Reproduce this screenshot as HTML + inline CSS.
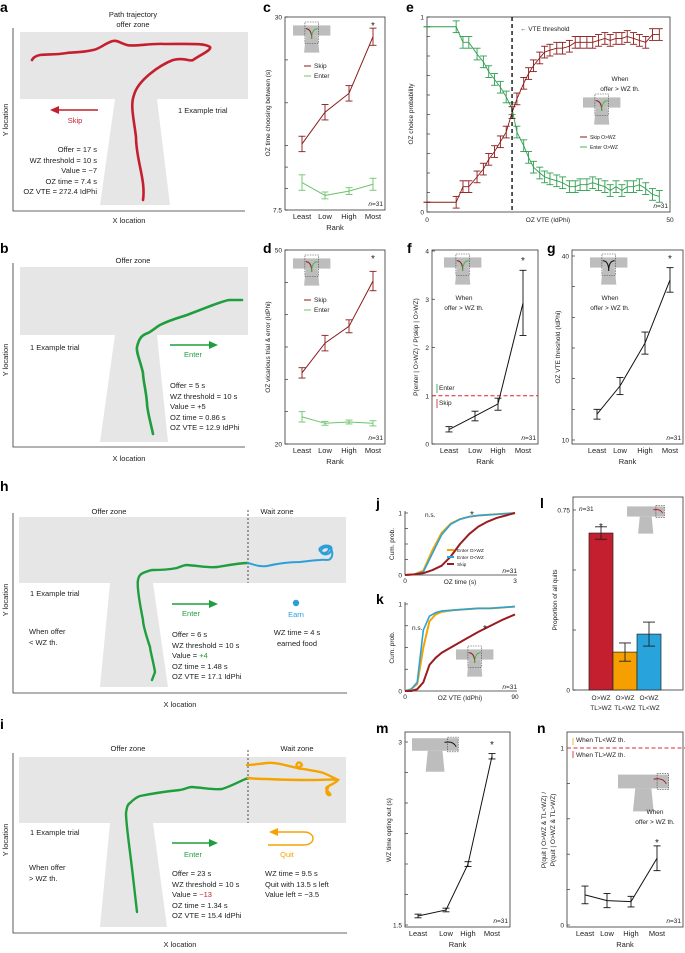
<!DOCTYPE html>
<html><head><meta charset="utf-8">
<style>
html,body{margin:0;padding:0;background:#fff;}
svg{display:block;font-family:"Liberation Sans",Arial,sans-serif;}
text{fill:#222;}
.lt{font-weight:bold;font-size:14px;fill:#000;}
.t7{font-size:7.5px;}
.t6{font-size:6.5px;}
</style></head>
<body>
<svg id="fig" width="685" height="953" viewBox="0 0 685 953" xmlns="http://www.w3.org/2000/svg">
<!-- panel letters -->
<text class="lt" x="0" y="12">a</text>
<text class="lt" x="263" y="12">c</text>
<text class="lt" x="406" y="12">e</text>
<text class="lt" x="0" y="253">b</text>
<text class="lt" x="263" y="253">d</text>
<text class="lt" x="407" y="253">f</text>
<text class="lt" x="547" y="253">g</text>
<text class="lt" x="0" y="491">h</text>
<text class="lt" x="0" y="729">i</text>
<text class="lt" x="376" y="508">j</text>
<text class="lt" x="376" y="604">k</text>
<text class="lt" x="540" y="508">l</text>
<text class="lt" x="376" y="733">m</text>
<text class="lt" x="537" y="733">n</text>

<!-- panel a -->
<g>
<rect x="20" y="32" width="228" height="67" fill="#e6e6e6"/>
<polygon points="115,99 157,99 170,205 100,205" fill="#e6e6e6"/>
<path d="M13,28 V211 H245" fill="none" stroke="#333" stroke-width="0.8"/>
<path d="M143,200 C146,180 136,160 136,137 C134,120 130,105 134,95 C138,80 160,65 173,60 C185,57 190,62 193,60 C200,55 212,50 210,47 C205,43 190,44 165,44 C150,43 135,47 127,45 C120,43 117,40 113,41 C105,43 100,49 93,50 C80,53 72,52 67,53 C55,55 48,54 40,55 C35,56 33,58 32,60" fill="none" stroke="#c41f2e" stroke-width="2.6" stroke-linecap="round"/>
<text class="t7" x="133" y="17" text-anchor="middle">Path trajectory</text>
<text class="t7" x="133" y="27" text-anchor="middle">offer zone</text>
<line x1="98" y1="110" x2="56" y2="110" stroke="#c41f2e" stroke-width="1.4"/>
<polygon points="50,110 59,106 59,114" fill="#c41f2e"/>
<text class="t7" x="75" y="123" text-anchor="middle" style="fill:#c41f2e">Skip</text>
<text class="t7" x="178" y="113">1 Example trial</text>
<g class="t7" text-anchor="end">
<text x="97" y="152">Offer = 17 s</text><text x="97" y="163">WZ threshold = 10 s</text><text x="97" y="173">Value = −7</text><text x="97" y="184">OZ time = 7.4 s</text><text x="97" y="194">OZ VTE = 272.4 IdPhi</text></g>
<text class="t7" x="129" y="223" text-anchor="middle">X location</text>
<text class="t7" x="8" y="120" text-anchor="middle" transform="rotate(-90 8 120)">Y location</text>
</g>

<!-- panel b -->
<g>
<rect x="20" y="267" width="228" height="68" fill="#e6e6e6"/>
<polygon points="115,335 157,335 168,442 100,442" fill="#e6e6e6"/>
<path d="M13,263 V447 H245" fill="none" stroke="#333" stroke-width="0.8"/>
<path d="M153,434 C150,420 147,410 147,403 C146,390 143,380 143,373 C140,360 136,352 137,347 C139,338 142,335 148,333 C152,331 155,328 160,325 C170,320 178,318 187,315 C200,310 205,308 213,305 C222,302 226,300 230,300 L242,300" fill="none" stroke="#1f9e3e" stroke-width="2.6" stroke-linecap="round"/>
<text class="t7" x="133" y="263" text-anchor="middle">Offer zone</text>
<text class="t7" x="30" y="350">1 Example trial</text>
<line x1="170" y1="345" x2="212" y2="345" stroke="#1f9e3e" stroke-width="1.4"/>
<polygon points="218,345 209,341 209,349" fill="#1f9e3e"/>
<text class="t7" x="193" y="357" text-anchor="middle" style="fill:#1f9e3e">Enter</text>
<g class="t7">
<text x="170" y="388">Offer = 5 s</text><text x="170" y="399">WZ threshold = 10 s</text><text x="170" y="409">Value = +5</text><text x="170" y="420">OZ time = 0.86 s</text><text x="170" y="430">OZ VTE = 12.9 IdPhi</text></g>
<text class="t7" x="129" y="461" text-anchor="middle">X location</text>
<text class="t7" x="8" y="360" text-anchor="middle" transform="rotate(-90 8 360)">Y location</text>
</g>

<!-- panel h -->
<g>
<rect x="19" y="517" width="327" height="66" fill="#e6e6e6"/>
<polygon points="110,583 153,583 168,687 100,687" fill="#e6e6e6"/>
<line x1="248" y1="510" x2="248" y2="583" stroke="#222" stroke-width="0.8" stroke-dasharray="2,2"/>
<path d="M13,513 V693 H347" fill="none" stroke="#333" stroke-width="0.8"/>
<path d="M152,680 L155,672 C153,660 150,650 150,647 C146,635 143,625 143,620 C139,600 137,585 138,580 C139,575 141,574 143,573 C148,571 150,570 153,570 C165,570 172,569 177,568 C182,566 184,565 187,565 C200,566 210,568 217,567 C230,565 240,563 248,563" fill="none" stroke="#1f9e3e" stroke-width="2.4" stroke-linecap="round"/>
<path d="M248,563 C255,565 260,567 267,566 C280,563 290,562 300,562 C310,561 315,560 320,560 C326,559 330,562 332,556 C334,548 326,545 322,549 C318,554 328,557 331,551 C334,545 325,544 320,548 C317,552 327,556 329,549" fill="none" stroke="#2b9fd9" stroke-width="2" stroke-linecap="round"/>
<text class="t7" x="109" y="514" text-anchor="middle">Offer zone</text>
<text class="t7" x="277" y="514" text-anchor="middle">Wait zone</text>
<text class="t7" x="30" y="596">1 Example trial</text>
<text class="t7" x="29" y="634">When offer</text>
<text class="t7" x="29" y="645">&lt; WZ th.</text>
<line x1="172" y1="604" x2="212" y2="604" stroke="#1f9e3e" stroke-width="1.4"/>
<polygon points="218,604 209,600 209,608" fill="#1f9e3e"/>
<text class="t7" x="191" y="616" text-anchor="middle" style="fill:#1f9e3e">Enter</text>
<circle cx="296" cy="603" r="3.2" fill="#2b9fd9"/>
<text class="t7" x="296" y="617" text-anchor="middle" style="fill:#2b9fd9">Earn</text>
<g class="t7">
<text x="172" y="637">Offer = 6 s</text><text x="172" y="648">WZ threshold = 10 s</text><text x="172" y="658">Value = <tspan style="fill:#1f9e3e">+4</tspan></text><text x="172" y="669">OZ time = 1.48 s</text><text x="172" y="679">OZ VTE = 17.1 IdPhi</text></g>
<text class="t7" x="297" y="635" text-anchor="middle">WZ time = 4 s</text>
<text class="t7" x="297" y="646" text-anchor="middle">earned food</text>
<text class="t7" x="180" y="707" text-anchor="middle">X location</text>
<text class="t7" x="8" y="600" text-anchor="middle" transform="rotate(-90 8 600)">Y location</text>
</g>

<!-- panel i -->
<g>
<rect x="19" y="757" width="327" height="66" fill="#e6e6e6"/>
<polygon points="110,823 153,823 167,927 100,927" fill="#e6e6e6"/>
<line x1="248" y1="750" x2="248" y2="823" stroke="#222" stroke-width="0.8" stroke-dasharray="2,2"/>
<path d="M13,753 V933 H347" fill="none" stroke="#333" stroke-width="0.8"/>
<path d="M137,912 C135,895 134,885 133,877 C130,850 126,825 126,813 C127,806 128,804 130,803 C134,799 137,797 140,796 C155,793 170,791 180,790 C186,789 188,787 192,787 C205,788 215,790 222,789 C232,786 240,781 248,778" fill="none" stroke="#1f9e3e" stroke-width="2.4" stroke-linecap="round"/>
<path d="M248,778 C255,779 260,779 267,779 C285,780 300,780 313,780 C325,780 333,779 338,780 C336,783 330,785 327,787 C324,790 332,794 330,795 C327,796 325,791 328,788 M338,780 C330,776 325,773 320,772 C310,770 303,769 297,768 C295,763 300,760 302,765 C300,768 296,767 297,768 C285,765 275,762 267,763 C258,764 252,765 247,765" fill="none" stroke="#f5a300" stroke-width="2.4" stroke-linecap="round"/>
<text class="t7" x="128" y="751" text-anchor="middle">Offer zone</text>
<text class="t7" x="297" y="751" text-anchor="middle">Wait zone</text>
<text class="t7" x="30" y="835">1 Example trial</text>
<text class="t7" x="29" y="870">When offer</text>
<text class="t7" x="29" y="881">&gt; WZ th.</text>
<line x1="172" y1="843" x2="212" y2="843" stroke="#1f9e3e" stroke-width="1.4"/>
<polygon points="218,843 209,839 209,847" fill="#1f9e3e"/>
<text class="t7" x="193" y="857" text-anchor="middle" style="fill:#1f9e3e">Enter</text>
<path d="M268,845 H304 C316,845 316,832 304,832 H276" fill="none" stroke="#f5a300" stroke-width="1.4"/>
<polygon points="269,832 278,828 278,836" fill="#f5a300"/>
<text class="t7" x="287" y="857" text-anchor="middle" style="fill:#f5a300">Quit</text>
<g class="t7">
<text x="172" y="876">Offer = 23 s</text><text x="172" y="887">WZ threshold = 10 s</text><text x="172" y="897">Value = <tspan style="fill:#c41f2e">−13</tspan></text><text x="172" y="908">OZ time = 1.34 s</text><text x="172" y="918">OZ VTE = 15.4 IdPhi</text></g>
<g class="t7">
<text x="265" y="876">WZ time = 9.5 s</text><text x="265" y="887">Quit with 13.5 s left</text><text x="265" y="897">Value left = −3.5</text></g>
<text class="t7" x="180" y="947" text-anchor="middle">X location</text>
<text class="t7" x="8" y="840" text-anchor="middle" transform="rotate(-90 8 840)">Y location</text>
</g>
<g id="charts"></g>
</svg>
<script>
const RANKS = ['Least','Low','High','Most'];
const cSkip = [15.2, 18.9, 21.1, 27.7];
const cSkipErr = [0.9, 0.9, 0.9, 1.0];
const cEnter = [10.7, 9.2, 9.7, 10.5];
const cEnterErr = [0.9, 0.4, 0.4, 0.7];
const dSkip = [31.0, 35.6, 38.2, 45.2];
const dSkipErr = [0.8, 1.2, 1.0, 1.5];
const dEnter = [24.2, 23.2, 23.4, 23.2];
const dEnterErr = [0.8, 0.3, 0.3, 0.4];
const fVals = [0.30, 0.58, 0.83, 2.92];
const fLo = [0.25, 0.48, 0.70, 2.25];
const fHi = [0.36, 0.68, 0.95, 3.60];
const gVals = [14.2, 18.8, 25.8, 36.1];
const gErr = [0.8, 1.4, 1.8, 2.0];
const mVals = [1.574, 1.623, 1.999, 2.883];
const mErr = [0.015, 0.015, 0.02, 0.022];
const nVals = [0.17, 0.138, 0.132, 0.377];
const nErr = [0.05, 0.04, 0.03, 0.07];
const eX = [0, 6.0, 7.4, 8.6, 10.3, 11.6, 12.7, 13.9, 15.1, 16.3, 17.5, 18.5, 19.9, 20.9, 21.9, 23.2, 24.2, 25.3, 26.7, 27.9, 29.3, 30.5, 31.5, 32.9, 34.1, 35.3, 36.6, 37.7, 38.9, 40.1, 41.2, 42.5, 43.7, 45.0, 46.4, 47.8];
const eSkip = [0.05, 0.05, 0.13, 0.13, 0.18, 0.22, 0.27, 0.31, 0.36, 0.41, 0.51, 0.58, 0.66, 0.71, 0.75, 0.79, 0.82, 0.83, 0.84, 0.84, 0.85, 0.87, 0.87, 0.87, 0.87, 0.88, 0.89, 0.88, 0.89, 0.89, 0.90, 0.89, 0.88, 0.87, 0.91, 0.91];
const eEnter = [0.95, 0.95, 0.87, 0.87, 0.81, 0.77, 0.72, 0.68, 0.64, 0.59, 0.53, 0.41, 0.34, 0.28, 0.23, 0.20, 0.18, 0.17, 0.16, 0.15, 0.13, 0.13, 0.14, 0.14, 0.15, 0.14, 0.13, 0.11, 0.13, 0.11, 0.13, 0.13, 0.14, 0.12, 0.09, 0.08];
const jX = [0, 0.25, 0.5, 0.75, 1, 1.25, 1.5, 1.75, 2, 2.25, 2.5, 2.75, 3];
const jEnterHi = [0, 0.01, 0.07, 0.40, 0.68, 0.83, 0.90, 0.94, 0.96, 0.97, 0.98, 0.99, 1.0];
const jEnterLo = [0, 0.01, 0.05, 0.35, 0.65, 0.82, 0.90, 0.94, 0.96, 0.97, 0.98, 0.99, 1.0];
const jSkip = [0, 0.01, 0.03, 0.08, 0.15, 0.30, 0.50, 0.66, 0.78, 0.86, 0.92, 0.96, 1.0];
const kX = [0, 5, 10, 15, 20, 25, 30, 40, 50, 60, 70, 80, 90];
const kEnterHi = [0, 0.02, 0.08, 0.50, 0.80, 0.88, 0.91, 0.93, 0.94, 0.95, 0.95, 0.96, 0.97];
const kEnterLo = [0, 0.02, 0.10, 0.70, 0.86, 0.90, 0.92, 0.93, 0.94, 0.95, 0.95, 0.96, 0.97];
const kSkip = [0, 0, 0.02, 0.10, 0.30, 0.38, 0.44, 0.52, 0.60, 0.68, 0.75, 0.82, 0.88];
const lCats = [['O>WZ','TL>WZ'], ['O>WZ','TL<WZ'], ['O<WZ','TL<WZ']];
const lVals = [0.654, 0.158, 0.233];
const lErr = [0.026, 0.038, 0.05];

const NS = 'http://www.w3.org/2000/svg';
const root = document.getElementById('charts');
function mk(parent, tag, attrs, name, txt) {
  const el = document.createElementNS(NS, tag);
  for (const k in attrs) el.setAttribute(k, attrs[k]);
  
  
  if (txt !== undefined) el.textContent = txt;
  parent.appendChild(el);
  return el;
}
function lin(d0, d1, r0, r1) { return v => r0 + (v - d0) / (d1 - d0) * (r1 - r0); }

function box(g, x0, y0, x1, y1) {
  mk(g, 'rect', {x: x0, y: y0, width: x1 - x0, height: y1 - y0, fill: 'none', stroke: '#333', 'stroke-width': 0.8}, 'plot-frame');
}
function yTicks(g, x0, ys, labels, sy) {
  ys.forEach((v, i) => {
    mk(g, 'line', {x1: x0, x2: x0 + 3, y1: sy(v), y2: sy(v), stroke: '#333', 'stroke-width': 0.7}, 'y-tick');
    if (labels[i] !== '') mk(g, 'text', {x: x0 - 3, y: sy(v) + 2.5, 'text-anchor': 'end', 'class': 't6'}, 'y-tick-label', labels[i]);
  });
}
function errBar(g, x, ylo, yhi, col, w) {
  mk(g, 'line', {x1: x, x2: x, y1: ylo, y2: yhi, stroke: col, 'stroke-width': 0.9}, 'error-bar');
  mk(g, 'line', {x1: x - w, x2: x + w, y1: ylo, y2: ylo, stroke: col, 'stroke-width': 0.9}, 'error-cap');
  mk(g, 'line', {x1: x - w, x2: x + w, y1: yhi, y2: yhi, stroke: col, 'stroke-width': 0.9}, 'error-cap');
}
function series(g, xs, vals, lo, hi, sy, col, name, sw) {
  mk(g, 'polyline', {points: vals.map((v, i) => xs[i] + ',' + sy(v)).join(' '), fill: 'none', stroke: col, 'stroke-width': sw || 1}, name + '-line');
  vals.forEach((v, i) => errBar(g, xs[i], sy(lo[i]), sy(hi[i]), col, 3.5));
}
function rankAxis(g, xs, yb, x0, x1) {
  xs.forEach((x, i) => {
    mk(g, 'text', {x: x, y: yb + 9, 'text-anchor': 'middle', 'class': 't7'}, 'x-tick-label', RANKS[i]);
  });
  mk(g, 'text', {x: (x0 + x1) / 2, y: yb + 20, 'text-anchor': 'middle', 'class': 't7'}, 'x-axis-title', 'Rank');
}
function nLabel(g, x, y) {
  const t = mk(g, 'text', {x: x, y: y, 'text-anchor': 'end', 'class': 't6'}, 'n-label');
  t.innerHTML = '<tspan font-style="italic">n</tspan>=31';
}
function yTitle(g, x, y, txt, name) {
  mk(g, 'text', {x: x, y: y, 'text-anchor': 'middle', 'class': 't6', transform: 'rotate(-90 ' + x + ' ' + y + ')'}, name || 'y-axis-title', txt);
}
function star(g, x, y) { mk(g, 'text', {x: x, y: y, 'text-anchor': 'middle', 'font-size': 10}, 'significance-star', '*'); }
function tIcon(g, x, y, s, arrows) {
  mk(g, 'rect', {x: x, y: y + 4 * s, width: 44 * s, height: 12 * s, fill: '#bdbdbd'}, 'inset-maze-bar');
  mk(g, 'polygon', {points: [x + 15 * s, y + 16 * s, x + 29 * s, y + 16 * s, x + 31 * s, y + 36 * s, x + 13 * s, y + 36 * s].join(','), fill: '#bdbdbd'}, 'inset-maze-stem');
  if (arrows === 'center') {
    mk(g, 'rect', {x: x + 14 * s, y: y, width: 16 * s, height: 25 * s, fill: 'none', stroke: '#444', 'stroke-width': 0.6, 'stroke-dasharray': '1.5,1'}, 'inset-zone-box');
    mk(g, 'path', {d: `M${x+22*s},${y+20*s} C${x+22*s},${y+10*s} ${x+18*s},${y+8*s} ${x+15*s},${y+8*s}`, fill: 'none', stroke: '#8b1a1a', 'stroke-width': 1}, 'inset-skip-arrow');
    mk(g, 'path', {d: `M${x+22*s},${y+20*s} C${x+22*s},${y+10*s} ${x+26*s},${y+8*s} ${x+29*s},${y+8*s}`, fill: 'none', stroke: '#4cb54c', 'stroke-width': 1}, 'inset-enter-arrow');
  } else if (arrows === 'black') {
    mk(g, 'rect', {x: x + 14 * s, y: y, width: 16 * s, height: 25 * s, fill: 'none', stroke: '#444', 'stroke-width': 0.6, 'stroke-dasharray': '1.5,1'}, 'inset-zone-box');
    mk(g, 'path', {d: `M${x+22*s},${y+20*s} C${x+22*s},${y+10*s} ${x+18*s},${y+8*s} ${x+15*s},${y+8*s} M${x+22*s},${y+20*s} C${x+22*s},${y+10*s} ${x+26*s},${y+8*s} ${x+29*s},${y+8*s}`, fill: 'none', stroke: '#111', 'stroke-width': 1}, 'inset-arrows');
  } else {
    mk(g, 'rect', {x: x + 34 * s, y: y + 3 * s, width: 10 * s, height: 14 * s, fill: 'none', stroke: '#444', 'stroke-width': 0.6, 'stroke-dasharray': '1.5,1'}, 'inset-wait-box');
    mk(g, 'path', {d: `M${x+42*s},${y+12*s} C${x+40*s},${y+8*s} ${x+36*s},${y+7*s} ${x+31*s},${y+8*s}`, fill: 'none', stroke: arrows, 'stroke-width': 1}, 'inset-quit-arrow');
  }
}

// ---- panel c
(function () {
  const g = mk(root, 'g', {}, 'panel-c-oz-time');
  const sy = lin(7.5, 30, 210, 17);
  const xs = [302, 325, 349, 373];
  box(g, 285, 17, 385, 210);
  yTicks(g, 285, [7.5, 10, 12.5, 15, 20, 25, 30], ['7.5', '', '', '', '', '', '30'], sy);
  tIcon(g, 293, 22, 0.85, 'center');
  mk(g, 'line', {x1: 304, x2: 311, y1: 66, y2: 66, stroke: '#8b1a1a', 'stroke-width': 1}, 'legend-skip-swatch');
  mk(g, 'text', {x: 314, y: 68, 'class': 't6', 'font-size': 5}, 'legend-skip-label', 'Skip');
  mk(g, 'line', {x1: 304, x2: 311, y1: 76, y2: 76, stroke: '#6cc46c', 'stroke-width': 1}, 'legend-enter-swatch');
  mk(g, 'text', {x: 314, y: 78, 'class': 't6', 'font-size': 5}, 'legend-enter-label', 'Enter');
  series(g, xs, cSkip, cSkip.map((v, i) => v - cSkipErr[i]), cSkip.map((v, i) => v + cSkipErr[i]), sy, '#8b1a1a', 'skip');
  series(g, xs, cEnter, cEnter.map((v, i) => v - cEnterErr[i]), cEnter.map((v, i) => v + cEnterErr[i]), sy, '#6cc46c', 'enter');
  star(g, 373, 29);
  nLabel(g, 383, 206);
  rankAxis(g, xs, 210, 285, 385);
  yTitle(g, 270, 113, 'OZ time choosing between (s)');
})();

// ---- panel d
(function () {
  const g = mk(root, 'g', {}, 'panel-d-oz-vte');
  const sy = lin(20, 50, 444, 250);
  const xs = [302, 325, 349, 373];
  box(g, 285, 250, 385, 444);
  yTicks(g, 285, [20, 25, 30, 35, 40, 45, 50], ['20', '', '', '', '', '', '50'], sy);
  tIcon(g, 293, 255, 0.85, 'center');
  mk(g, 'line', {x1: 304, x2: 311, y1: 300, y2: 300, stroke: '#8b1a1a', 'stroke-width': 1}, 'legend-skip-swatch');
  mk(g, 'text', {x: 314, y: 302, 'class': 't6', 'font-size': 5}, 'legend-skip-label', 'Skip');
  mk(g, 'line', {x1: 304, x2: 311, y1: 310, y2: 310, stroke: '#6cc46c', 'stroke-width': 1}, 'legend-enter-swatch');
  mk(g, 'text', {x: 314, y: 312, 'class': 't6', 'font-size': 5}, 'legend-enter-label', 'Enter');
  series(g, xs, dSkip, dSkip.map((v, i) => v - dSkipErr[i]), dSkip.map((v, i) => v + dSkipErr[i]), sy, '#8b1a1a', 'skip');
  series(g, xs, dEnter, dEnter.map((v, i) => v - dEnterErr[i]), dEnter.map((v, i) => v + dEnterErr[i]), sy, '#6cc46c', 'enter');
  star(g, 373, 262);
  nLabel(g, 383, 440);
  rankAxis(g, xs, 444, 285, 385);
  yTitle(g, 270, 347, 'OZ vicarious trial & error (IdPhi)');
})();

// ---- panel e
(function () {
  const g = mk(root, 'g', {}, 'panel-e-choice-probability');
  const sx = lin(0, 50, 427, 670), sy = lin(0, 1, 212, 17);
  box(g, 427, 17, 670, 212);
  yTicks(g, 427, [0, 0.1, 0.2, 0.3, 0.4, 0.5, 0.6, 0.7, 0.8, 0.9, 1], ['0', '', '', '', '', '', '', '', '', '', '1'], sy);
  const xs = eX.map(sx);
  const errs = eX.map((x, i) => i === 0 ? 0 : 0.03);
  series(g, xs, eEnter, eEnter.map((v, i) => v - errs[i]), eEnter.map((v, i) => v + errs[i]), sy, '#2e9e4f', 'enter', 0.9);
  series(g, xs, eSkip, eSkip.map((v, i) => v - errs[i]), eSkip.map((v, i) => v + errs[i]), sy, '#8b1a1a', 'skip', 0.9);
  mk(g, 'line', {x1: sx(17.5), x2: sx(17.5), y1: 17, y2: 212, stroke: '#111', 'stroke-width': 1.4, 'stroke-dasharray': '4,3'}, 'vte-threshold-line');
  mk(g, 'text', {x: 520, y: 31, 'class': 't6'}, 'vte-threshold-label', '← VTE threshold');
  mk(g, 'text', {x: 427, y: 222, 'text-anchor': 'middle', 'class': 't6'}, 'x-tick-label', '0');
  mk(g, 'text', {x: 670, y: 222, 'text-anchor': 'middle', 'class': 't6'}, 'x-tick-label', '50');
  mk(g, 'text', {x: 548, y: 222, 'text-anchor': 'middle', 'class': 't6'}, 'x-axis-title', 'OZ VTE (IdPhi)');
  mk(g, 'text', {x: 620, y: 81, 'text-anchor': 'middle', 'class': 't6'}, 'inset-caption-line1', 'When');
  mk(g, 'text', {x: 620, y: 91, 'text-anchor': 'middle', 'class': 't6'}, 'inset-caption-line2', 'offer > WZ th.');
  tIcon(g, 583, 94, 0.85, 'center');
  mk(g, 'line', {x1: 580, x2: 587, y1: 137, y2: 137, stroke: '#8b1a1a', 'stroke-width': 1}, 'legend-skip-swatch');
  mk(g, 'text', {x: 590, y: 139, 'font-size': 5}, 'legend-skip-label', 'Skip O>WZ');
  mk(g, 'line', {x1: 580, x2: 587, y1: 147, y2: 147, stroke: '#4cb54c', 'stroke-width': 1}, 'legend-enter-swatch');
  mk(g, 'text', {x: 590, y: 149, 'font-size': 5}, 'legend-enter-label', 'Enter O>WZ');
  nLabel(g, 668, 208);
  yTitle(g, 413, 114, 'OZ choice probability');
})();

// ---- panel f
(function () {
  const g = mk(root, 'g', {}, 'panel-f-enter-skip-ratio');
  const sy = lin(0, 4, 444, 251);
  const xs = [449, 475, 498, 523];
  box(g, 432, 250, 538, 444);
  yTicks(g, 432, [0, 1, 2, 3, 4], ['0', '1', '2', '3', '4'], sy);
  tIcon(g, 444, 254, 0.85, 'center');
  mk(g, 'text', {x: 464, y: 300, 'text-anchor': 'middle', 'class': 't6'}, 'inset-caption-line1', 'When');
  mk(g, 'text', {x: 464, y: 310, 'text-anchor': 'middle', 'class': 't6'}, 'inset-caption-line2', 'offer > WZ th.');
  mk(g, 'line', {x1: 432, x2: 538, y1: sy(1), y2: sy(1), stroke: '#e0242c', 'stroke-width': 1.1, 'stroke-dasharray': '4,2.5'}, 'parity-line');
  mk(g, 'line', {x1: 437, x2: 437, y1: 393, y2: 384, stroke: '#1f9e3e', 'stroke-width': 0.8}, 'enter-indicator');
  mk(g, 'text', {x: 439, y: 390, 'class': 't6'}, 'enter-indicator-label', 'Enter');
  mk(g, 'line', {x1: 437, x2: 437, y1: 399, y2: 408, stroke: '#c41f2e', 'stroke-width': 0.8}, 'skip-indicator');
  mk(g, 'text', {x: 439, y: 405, 'class': 't6'}, 'skip-indicator-label', 'Skip');
  series(g, xs, fVals, fLo, fHi, sy, '#111', 'ratio');
  star(g, 523, 264);
  nLabel(g, 536, 440);
  rankAxis(g, xs, 444, 432, 538);
  yTitle(g, 418, 347, 'P(enter | O>WZ) / P(skip | O>WZ)');
})();

// ---- panel g
(function () {
  const g = mk(root, 'g', {}, 'panel-g-vte-threshold');
  const sy = lin(10, 40, 440, 256);
  const xs = [597, 620, 645, 670];
  box(g, 572, 250, 683, 444);
  yTicks(g, 572, [10, 15, 20, 25, 30, 35, 40], ['10', '', '', '', '', '', '40'], sy);
  tIcon(g, 590, 254, 0.85, 'black');
  mk(g, 'text', {x: 610, y: 300, 'text-anchor': 'middle', 'class': 't6'}, 'inset-caption-line1', 'When');
  mk(g, 'text', {x: 610, y: 310, 'text-anchor': 'middle', 'class': 't6'}, 'inset-caption-line2', 'offer > WZ th.');
  series(g, xs, gVals, gVals.map((v, i) => v - gErr[i]), gVals.map((v, i) => v + gErr[i]), sy, '#111', 'threshold');
  star(g, 670, 262);
  nLabel(g, 681, 440);
  rankAxis(g, xs, 444, 572, 683);
  yTitle(g, 560, 347, 'OZ VTE threshold (IdPhi)');
})();

// ---- panels j, k (CDFs)
function cdf(name, x0, x1, y0, y1, xd, xsA, hi, lo, sk, xlab, xmax, legend, inset, nsy, sty) {
  const g = mk(root, 'g', {}, name);
  const sx = lin(0, xd, x0, x1), sy = lin(0, 1, y0, y1);
  mk(g, 'path', {d: `M${x0},${y1 - 2} V${y0} H${x1 + 2}`, fill: 'none', stroke: '#333', 'stroke-width': 0.8}, 'axes');
  yTicks(g, x0, [0, 0.25, 0.5, 0.75, 1], ['0', '', '', '', '1'], sy);
  const line = (arr, col, w, nm) => mk(g, 'polyline', {points: arr.map((v, i) => sx(xsA[i]) + ',' + sy(v)).join(' '), fill: 'none', stroke: col, 'stroke-width': w, 'stroke-linejoin': 'round'}, nm);
  line(hi, '#f5a300', 2, 'enter-o-gt-wz-curve');
  line(lo, '#29a3dc', 1.6, 'enter-o-lt-wz-curve');
  line(sk, '#9b1b20', 2, 'skip-curve');
  mk(g, 'text', {x: x0, y: y0 + 8, 'text-anchor': 'middle', 'class': 't6'}, 'x-tick-label', '0');
  mk(g, 'text', {x: x1, y: y0 + 8, 'text-anchor': 'middle', 'class': 't6'}, 'x-tick-label', xmax);
  mk(g, 'text', {x: (x0 + x1) / 2, y: y0 + 9, 'text-anchor': 'middle', 'class': 't6'}, 'x-axis-title', xlab);
  mk(g, 'text', {x: nsy[0], y: nsy[1], 'class': 't6'}, 'ns-label', 'n.s.');
  star(g, sty[0], sty[1]);
  nLabel(g, x1 + 2, y0 - 2);
  yTitle(g, 394, (y0 + y1) / 2, 'Cum. prob.');
  if (legend) {
    const items = [['#f5a300', 'Enter O>WZ'], ['#29a3dc', 'Enter O<WZ'], ['#9b1b20', 'Skip']];
    items.forEach((it, i) => {
      mk(g, 'line', {x1: 447, x2: 454, y1: 550 + i * 7, y2: 550 + i * 7, stroke: it[0], 'stroke-width': 2}, 'legend-swatch');
      mk(g, 'text', {x: 457, y: 552 + i * 7, 'font-size': 4.8}, 'legend-label', it[1]);
    });
  }
  if (inset) tIcon(g, 456, 646, 0.85, 'center');
}
cdf('panel-j-oz-time-cdf', 405, 515, 575, 513, 3, jX, jEnterHi, jEnterLo, jSkip, 'OZ time (s)', '3', true, false, [425, 517], [472, 518]);
cdf('panel-k-oz-vte-cdf', 405, 515, 691, 604, 90, kX, kEnterHi, kEnterLo, kSkip, 'OZ VTE (IdPhi)', '90', false, true, [412, 630], [485, 632]);

// ---- panel l
(function () {
  const g = mk(root, 'g', {}, 'panel-l-quit-proportions');
  const sy = lin(0, 0.75, 690, 510);
  box(g, 573, 497, 683, 690);
  yTicks(g, 573, [0, 0.25, 0.5, 0.75], ['0', '', '', '0.75'], sy);
  const cols = ['#c41f2e', '#f5a000', '#29a3dc'];
  const bx = lin(0, 3, 589, 661);
  lVals.forEach((v, i) => {
    mk(g, 'rect', {x: bx(i), y: sy(v), width: bx(1) - bx(0), height: 690 - sy(v), fill: cols[i], stroke: '#222', 'stroke-width': 0.7}, 'bar-' + i);
    errBar(g, bx(i + 0.5), sy(v - lErr[i]), sy(v + lErr[i]), '#222', 6);
    mk(g, 'text', {x: bx(i + 0.5), y: 700, 'text-anchor': 'middle', 'class': 't6'}, 'category-label', lCats[i][0]);
    mk(g, 'text', {x: bx(i + 0.5), y: 710, 'text-anchor': 'middle', 'class': 't6'}, 'category-label', lCats[i][1]);
  });
  star(g, bx(0.5), 530);
  const t = mk(g, 'text', {x: 579, y: 511, 'class': 't6'}, 'n-label');
  t.innerHTML = '<tspan font-style="italic">n</tspan>=31';
  tIcon(g, 627, 503, 0.85, '#c41f2e');
  yTitle(g, 557, 600, 'Proportion of all quits');
})();

// ---- panel m
(function () {
  const g = mk(root, 'g', {}, 'panel-m-wz-time');
  const sy = lin(1.5, 3, 925, 742);
  const xs = [418, 446, 468, 492];
  box(g, 405, 732, 510, 927);
  yTicks(g, 405, [1.5, 1.75, 2, 2.25, 2.5, 2.75, 3], ['1.5', '', '', '', '', '', '3'], sy);
  tIcon(g, 412, 734, 1.05, '#111');
  series(g, xs, mVals, mVals.map((v, i) => v - mErr[i]), mVals.map((v, i) => v + mErr[i]), sy, '#111', 'wz-time');
  star(g, 492, 748);
  nLabel(g, 508, 923);
  rankAxis(g, xs, 927, 405, 510);
  yTitle(g, 391, 830, 'WZ time opting out (s)');
})();

// ---- panel n
(function () {
  const g = mk(root, 'g', {}, 'panel-n-quit-ratio');
  const sy = lin(0, 1, 925, 748);
  const xs = [585, 607, 631, 657];
  box(g, 567, 732, 683, 927);
  yTicks(g, 567, [0, 0.2, 0.4, 0.6, 0.8, 1], ['0', '', '', '', '', '1'], sy);
  mk(g, 'line', {x1: 567, x2: 686, y1: sy(1), y2: sy(1), stroke: '#e0242c', 'stroke-width': 1.1, 'stroke-dasharray': '4,2.5'}, 'parity-line');
  mk(g, 'line', {x1: 573, x2: 573, y1: 745, y2: 738, stroke: '#f5a300', 'stroke-width': 0.8}, 'tl-lt-indicator');
  mk(g, 'text', {x: 576, y: 742, 'class': 't6'}, 'tl-lt-label', 'When TL<WZ th.');
  mk(g, 'line', {x1: 573, x2: 573, y1: 751, y2: 758, stroke: '#c41f2e', 'stroke-width': 0.8}, 'tl-gt-indicator');
  mk(g, 'text', {x: 576, y: 757, 'class': 't6'}, 'tl-gt-label', 'When TL>WZ th.');
  tIcon(g, 618, 770, 1.15, '#9b1b20');
  mk(g, 'text', {x: 655, y: 814, 'text-anchor': 'middle', 'class': 't6'}, 'inset-caption-line1', 'When');
  mk(g, 'text', {x: 655, y: 824, 'text-anchor': 'middle', 'class': 't6'}, 'inset-caption-line2', 'offer > WZ th.');
  series(g, xs, nVals, nVals.map((v, i) => v - nErr[i]), nVals.map((v, i) => v + nErr[i]), sy, '#111', 'quit-ratio');
  star(g, 657, 846);
  nLabel(g, 681, 923);
  rankAxis(g, xs, 927, 567, 683);
  yTitle(g, 546, 830, 'P(quit | O>WZ & TL<WZ) /');
  yTitle(g, 555, 830, 'P(quit | O>WZ & TL>WZ)');
})();
</script>
</body></html>
